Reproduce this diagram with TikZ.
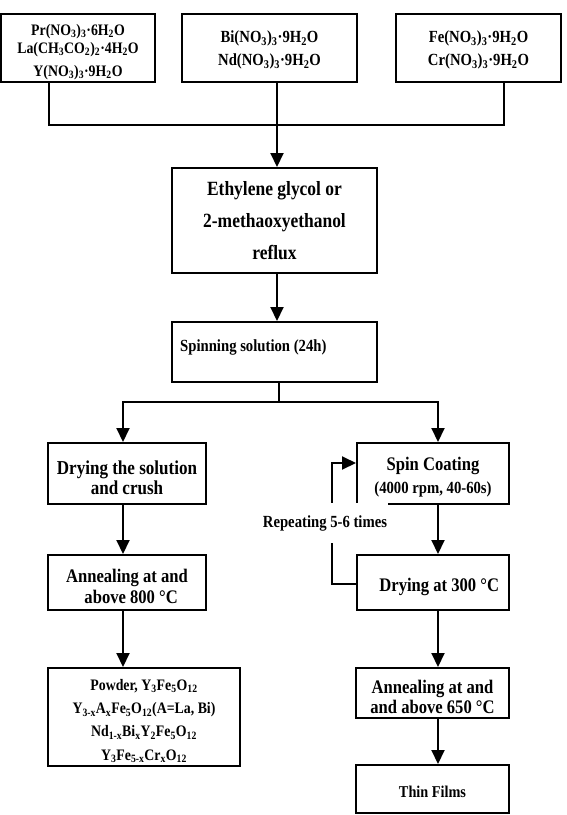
\documentclass[tikz,border=0pt]{standalone}
\usepackage{fontspec}
\newfontfamily\fnt[FakeStretch=0.865]{Liberation Serif}
\usetikzlibrary{arrows.meta}
\newcommand\myfs[2]{\fnt\bfseries\fontsize{#1}{#2}\selectfont}
\newcommand\sub[1]{\textsubscript{#1}}
\begin{document}
\begin{tikzpicture}[x=1pt,y=-1pt,
  box/.style={draw, line width=2pt, inner sep=0pt},
  tx/.style={inner sep=0pt, align=center},
  arr/.style={line width=2pt, -{Triangle[width=13pt,length=14pt]}},
  ln/.style={line width=2pt}]
\useasboundingbox (0,0) rectangle (567,815);

% top source boxes
\node[box, minimum width=154pt, minimum height=68pt] (b1) at (78,48) {};
\node[tx, yshift=-4pt, font=\myfs{16}{18}] (b1t) at (b1.center)
  {Pr(NO\sub{3})\sub{3}·6H\sub{2}O\\La(CH\sub{3}CO\sub{2})\sub{2}·4H\sub{2}O\\[5pt]Y(NO\sub{3})\sub{3}·9H\sub{2}O};
\node[box, minimum width=175pt, minimum height=68pt] (b2) at (269.5,48) {};
\node[tx, yshift=-2pt, font=\myfs{17}{23}] (b2t) at (b2.center)
  {Bi(NO\sub{3})\sub{3}·9H\sub{2}O\\Nd(NO\sub{3})\sub{3}·9H\sub{2}O};
\node[box, minimum width=165pt, minimum height=68pt] (b3) at (478.5,48) {};
\node[tx, yshift=-2pt, font=\myfs{17}{23}] (b3t) at (b3.center)
  {Fe(NO\sub{3})\sub{3}·9H\sub{2}O\\Cr(NO\sub{3})\sub{3}·9H\sub{2}O};

% middle
\node[box, minimum width=205pt, minimum height=105pt] (eth) at (274.5,220.5) {};
\node[tx, font=\myfs{20.2}{32}] (etht) at (eth.center)
  {Ethylene glycol or\\2-methaoxyethanol\\reflux};
\node[box, minimum width=205pt, minimum height=60pt] (spin) at (274.5,352) {};
\node[tx, anchor=base west, font=\myfs{17}{19}] (spint) at (180,351) {Spinning solution (24h)};

% left column
\node[box, minimum width=158pt, minimum height=61pt] (dry1) at (127,473.5) {};
\node[tx, yshift=-4pt, font=\myfs{19.7}{20}] (dry1t) at (dry1.center)
  {Drying the solution\\and crush};
\node[box, minimum width=158pt, minimum height=55pt] (ann1) at (127,582.5) {};
\node[tx, yshift=-4pt, font=\myfs{19.2}{21}] (ann1t) at (ann1.center)
  {Annealing at and\\\ \ above 800 °C};
\node[box, minimum width=192pt, minimum height=98pt] (pow) at (144,717) {};
\node[tx, yshift=-4pt, font=\myfs{16}{23.3}] (powt) at (pow.center)
  {Powder, Y\sub{3}Fe\sub{5}O\sub{12}\\Y\sub{3-x}A\sub{x}Fe\sub{5}O\sub{12}(A=La, Bi)\\Nd\sub{1-x}Bi\sub{x}Y\sub{2}Fe\sub{5}O\sub{12}\\Y\sub{3}Fe\sub{5-x}Cr\sub{x}O\sub{12}};

% right column
\node[box, minimum width=152pt, minimum height=61pt] (spc) at (433,473.5) {};
\node[tx, yshift=-4pt, font=\myfs{19.2}{23}] (spct) at (spc.center)
  {Spin Coating\\{\myfs{17}{23}(4000 rpm, 40-60s)}};
\node[box, minimum width=152pt, minimum height=55pt] (dry2) at (433,582.5) {};
\node[tx, yshift=-4pt, font=\myfs{19.2}{21}] (dry2t) at (dry2.center)
  {\ \ \ Drying at 300 °C};
\node[box, minimum width=153pt, minimum height=50pt] (ann2) at (432.5,693) {};
\node[tx, yshift=-4pt, font=\myfs{19.2}{20}] (ann2t) at (ann2.center)
  {Annealing at and\\and above 650 °C};
\node[box, minimum width=153pt, minimum height=48pt] (thin) at (432.5,789) {};
\node[tx, yshift=-3pt, font=\myfs{16.5}{19}] (thint) at (thin.center) {Thin Films};

% connector coordinates
\coordinate (j1) at (49,125);
\coordinate (jm) at (277,125);
\coordinate (j3) at (504,125);
\coordinate (sp) at (279,402);
\coordinate (lx) at (123,0);
\coordinate (rx) at (438,0);
\coordinate (la) at (332,584);
\coordinate (lb) at (332,463);

% connectors
\draw[ln] (b1.south -| j1) -- (j1) -- (j3) -- (b3.south -| j3);
\draw[arr] (b2.south -| jm) -- (eth.north -| jm);
\draw[arr] (eth.south -| jm) -- (spin.north -| jm);
\draw[ln] (spin.south -| sp) -- (sp);
\draw[arr] (sp) -| (dry1.north -| lx);
\draw[arr] (sp) -| (spc.north -| rx);
\draw[arr] (dry1.south -| lx) -- (ann1.north -| lx);
\draw[arr] (ann1.south -| lx) -- (pow.north -| lx);
\draw[arr] (spc.south -| rx) -- (dry2.north -| rx);
\draw[arr] (dry2.south -| rx) -- (ann2.north -| rx);
\draw[arr] (ann2.south -| rx) -- (thin.north -| rx);
\draw[arr] (dry2.west |- la) -- (la) -- (lb) -- (spc.west |- lb);
\node[fill=white, inner xsep=1pt, inner ysep=12pt, font=\myfs{17}{19}] (rep) at (325,523) {Repeating 5-6 times};
\end{tikzpicture}
\end{document}
